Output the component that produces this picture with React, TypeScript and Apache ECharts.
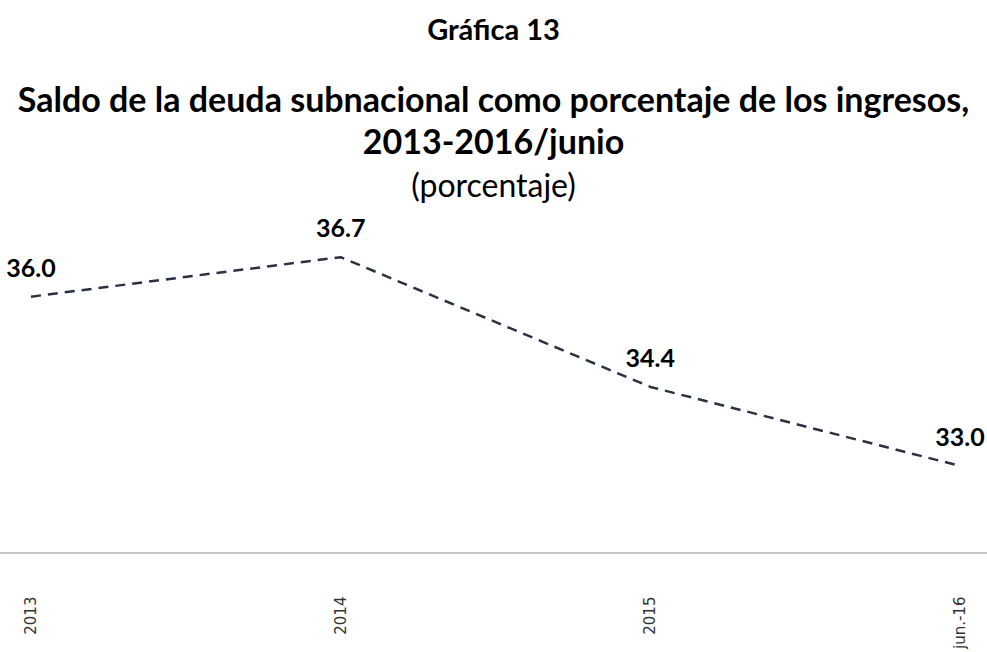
import React, { useEffect, useRef } from "react";
import * as echarts from "echarts";

const categories = ["2013", "2014", "2015", "jun.-16"];
const values = [36.0, 36.7, 34.4, 33.0];
const titleTop = "Gráfica 13";
const titleMain = "Saldo de la deuda subnacional como porcentaje de los ingresos,\n2013-2016/junio";
const subtitle = "(porcentaje)";

export default function App() {
  const ref = useRef<HTMLDivElement>(null);
  useEffect(() => {
    if (!ref.current) return;
    const chart = echarts.init(ref.current, null, { renderer: "svg" });
    const font = "Lato, 'Noto Sans', sans-serif";
    chart.setOption({
      animation: false,
      backgroundColor: "#ffffff",
      graphic: [
        {
          type: "text",
          left: "center",
          top: 14,
          style: { text: titleTop, font: `bold 29px ${font}`, fill: "#000", textAlign: "center" },
        },
        {
          type: "text",
          left: "center",
          top: 77,
          style: {
            text: titleMain,
            font: `bold 34px ${font}`,
            lineHeight: 42,
            fill: "#000",
            textAlign: "center",
          },
        },
        {
          type: "text",
          left: "center",
          top: 168,
          style: { text: subtitle, font: `normal 32px ${font}`, fill: "#000", textAlign: "center" },
        },
      ],
      grid: [
        { left: 31, right: 27, top: 212, bottom: 99, containLabel: false },
        { left: 0, right: 0, top: 212, bottom: 99, containLabel: false },
      ],
      xAxis: [
        {
          type: "category",
          gridIndex: 0,
          data: categories,
          boundaryGap: false,
          axisLine: { show: false },
          axisTick: { show: false },
          splitLine: { show: false },
          axisLabel: {
            rotate: 90,
            margin: 46,
            fontFamily: "'DejaVu Sans', Verdana, sans-serif",
            fontSize: 15,
            color: "#333",
            interval: 0,
          },
        },
        {
          type: "category",
          gridIndex: 1,
          data: [""],
          axisLine: { show: true, lineStyle: { color: "#b3b3b3", width: 1.5 } },
          axisTick: { show: false },
          axisLabel: { show: false },
          splitLine: { show: false },
        },
      ],
      yAxis: [
        { type: "value", gridIndex: 0, min: 31.5, max: 37.5, show: false, splitLine: { show: false } },
        { type: "value", gridIndex: 1, min: 31.5, max: 37.5, show: false, splitLine: { show: false } },
      ],
      series: [
        {
          type: "line",
          xAxisIndex: 0,
          yAxisIndex: 0,
          data: values,
          showSymbol: true,
          symbol: "circle",
          symbolSize: 1,
          itemStyle: { color: "rgba(0,0,0,0)" },
          clip: false,
          lineStyle: { color: "#2a3141", width: 2.5, type: [10, 7] },
          label: {
            show: true,
            position: "top",
            distance: 17,
            formatter: (p: any) => Number(p.value).toFixed(1),
            fontFamily: font,
            fontWeight: "bold",
            fontSize: 25,
            color: "#000",
          },
        },
      ],
    });
    return () => chart.dispose();
  }, []);
  return <div ref={ref} style={{ position: "fixed", left: 0, top: 0, width: 987, height: 652 }} />;
}
